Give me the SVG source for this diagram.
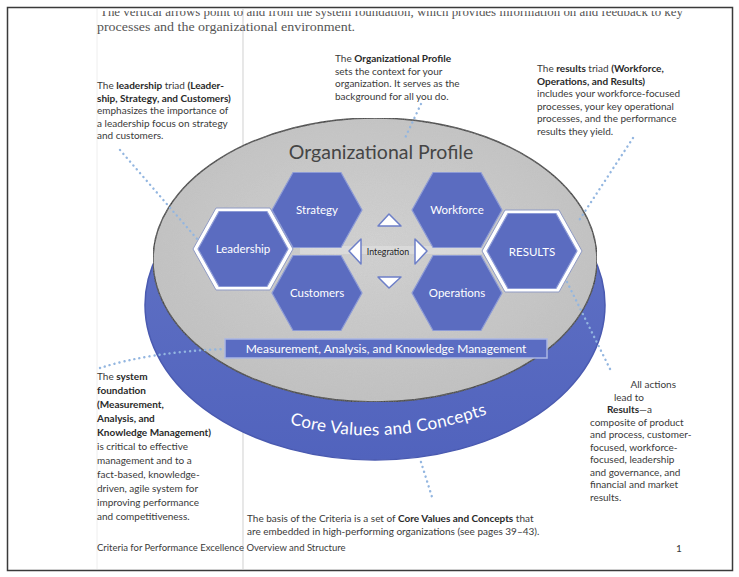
<svg xmlns="http://www.w3.org/2000/svg" width="739" height="577" viewBox="0 0 739 577">
<style>
.t{font-family:Lato,"Open Sans","Liberation Sans",sans-serif;font-size:10px;fill:#3a3a3a}
.b{font-weight:bold;fill:#2a2a2a}
.serif{font-family:"Liberation Serif",serif;font-size:12px;fill:#555}
.hl{font-family:Lato,"Open Sans",sans-serif;font-size:11.5px;fill:#fff;text-anchor:middle}
.dot{fill:none;stroke:#93b6e0;stroke-width:2.4;stroke-linecap:round;stroke-dasharray:0.1 5}
.hex{fill:#5b6cc0;stroke:#8d9bd6;stroke-width:1.2}
.tri{fill:#fff;stroke:#6d7fc8;stroke-width:1.5;stroke-linejoin:round}
</style>
<defs>
<polygon id="hx" points="-24,-37.5 24,-37.5 45,0 24,37.5 -24,37.5 -45,0"/>
<polygon id="hxo" points="-27,-41 27,-41 50,0 27,41 -27,41 -50,0"/>
<linearGradient id="blue" x1="0" y1="0" x2="0" y2="1">
<stop offset="0" stop-color="#6475c6"/><stop offset="1" stop-color="#5163bd"/>
</linearGradient>
<radialGradient id="gray" cx="0.5" cy="0.45" r="0.6">
<stop offset="0" stop-color="#d4d4d4"/><stop offset="1" stop-color="#c0c0c0"/>
</radialGradient>
<filter id="noise" x="0" y="0" width="1" height="1">
<feTurbulence type="fractalNoise" baseFrequency="0.9" numOctaves="2" seed="3" result="n"/>
<feColorMatrix in="n" type="matrix" values="0 0 0 0 0.5  0 0 0 0 0.5  0 0 0 0 0.5  0 0 0 0.35 0" result="g"/>
<feComposite in="g" in2="SourceGraphic" operator="in" result="gn"/>
<feMerge><feMergeNode in="SourceGraphic"/><feMergeNode in="gn"/></feMerge>
</filter>
<clipPath id="clipTop"><rect x="0" y="11" width="739" height="560"/></clipPath>
<path id="arc" d="M 287 423 Q 382 452 490 413"/>
</defs>
<rect width="739" height="577" fill="#fff"/>
<line x1="243" y1="9" x2="243" y2="569" stroke="#d8d8d8" stroke-width="1.2"/>
<line x1="97" y1="9" x2="97" y2="569" stroke="#eeeeee" stroke-width="1"/>
<rect x="7.5" y="7.5" width="725" height="563" fill="none" stroke="#3a3a3a" stroke-width="1.5"/>

<g id="intro" clip-path="url(#clipTop)">
<text class="serif" x="100" y="16" textLength="583" lengthAdjust="spacingAndGlyphs">The vertical arrows point to and from the system foundation, which provides information on and feedback to key</text>
<text class="serif" x="97" y="31" textLength="258" lengthAdjust="spacingAndGlyphs">processes and the organizational environment.</text>
</g>

<g id="base">
<ellipse cx="375" cy="305" rx="230" ry="155" fill="url(#blue)" stroke="#4a5ab0" stroke-width="1.5"/>
<ellipse cx="375" cy="260" rx="222" ry="142" fill="url(#gray)" stroke="#2e2e2e" stroke-width="1.4" filter="url(#noise)"/>
<text font-family="Lato,'Open Sans',sans-serif" font-size="19.5" fill="#454545" text-anchor="middle" x="381" y="159">Organizational Profile</text>
<text font-family="Lato,'Open Sans',sans-serif" font-size="17" fill="#fff" letter-spacing="0.3"><textPath href="#arc" startOffset="50%" text-anchor="middle">Core Values and Concepts</textPath></text>
</g>

<g id="integration">
<rect x="300" y="246" width="182" height="8" fill="#e4e4e4" opacity="0.55"/>
<polygon class="tri" points="378,226 389,214 401,226"/>
<polygon class="tri" points="378,277 401,277 389,288"/>
<polygon class="tri" points="349,251 361,239 361,264"/>
<polygon class="tri" points="427,251 415,239 415,264"/>
<text font-family="Lato,'Open Sans',sans-serif" font-size="8.8" fill="#222" text-anchor="middle" x="388" y="254.5">Integration</text>
</g>

<g id="leadership" transform="translate(243,249)">
<use href="#hxo" fill="#fff" stroke="#8f9ac4" stroke-width="1"/>
<use href="#hx" class="hex" stroke="none"/>
<text class="hl" y="4">Leadership</text>
</g>
<g id="strategy" transform="translate(317,210)">
<use href="#hx" class="hex"/>
<text class="hl" y="4">Strategy</text>
</g>
<g id="customers" transform="translate(317,293)">
<use href="#hx" class="hex"/>
<text class="hl" y="4">Customers</text>
</g>
<g id="workforce" transform="translate(457,210)">
<use href="#hx" class="hex"/>
<text class="hl" y="4">Workforce</text>
</g>
<g id="operations" transform="translate(457,293)">
<use href="#hx" class="hex"/>
<text class="hl" y="4">Operations</text>
</g>
<g id="results" transform="translate(532,251)">
<use href="#hxo" fill="#fff" stroke="#8f9ac4" stroke-width="1"/>
<use href="#hx" class="hex" stroke="none"/>
<text class="hl" y="5" font-size="13.5">RESULTS</text>
</g>

<g id="measurement">
<rect x="225" y="339" width="322" height="19" fill="#5a6cc2" stroke="#aab6e4" stroke-width="1.5"/>
<text font-family="Lato,'Open Sans',sans-serif" font-size="12" fill="#fff" text-anchor="middle" x="386" y="353">Measurement, Analysis, and Knowledge Management</text>
</g>

<g id="connectors">
<path class="dot" d="M 120 150 L 198 240"/>
<path class="dot" d="M 421 104 L 405 138"/>
<path class="dot" d="M 633 138 L 578 222"/>
<path class="dot" d="M 100 368 Q 150 352 225 349"/>
<path class="dot" d="M 567 282 L 612 373"/>
<path class="dot" d="M 421 462 L 432 497"/>
</g>

<g id="note-leadership" class="t">
<text x="97" y="89">The <tspan class="b">leadership</tspan> triad <tspan class="b">(Leader-</tspan></text>
<text x="97" y="101.5" class="b">ship, Strategy, and Customers)</text>
<text x="97" y="114">emphasizes the importance of</text>
<text x="97" y="126.5">a leadership focus on strategy</text>
<text x="97" y="139">and customers.</text>
</g>

<g id="note-profile" class="t">
<text x="335" y="62">The <tspan class="b">Organizational Profile</tspan></text>
<text x="335" y="74.5">sets the context for your</text>
<text x="335" y="87">organization. It serves as the</text>
<text x="335" y="99.5">background for all you do.</text>
</g>

<g id="note-results" class="t">
<text x="537" y="72">The <tspan class="b">results</tspan> triad <tspan class="b">(Workforce,</tspan></text>
<text x="537" y="84.5" class="b">Operations, and Results)</text>
<text x="537" y="97">includes your workforce-focused</text>
<text x="537" y="109.5">processes, your key operational</text>
<text x="537" y="122">processes, and the performance</text>
<text x="537" y="134.5">results they yield.</text>
</g>

<g id="note-foundation" class="t">
<text x="97" y="379.5">The <tspan class="b">system</tspan></text>
<text x="97" y="393.5" class="b">foundation</text>
<text x="97" y="407.5" class="b">(Measurement,</text>
<text x="97" y="421.5" class="b">Analysis, and</text>
<text x="97" y="435.5" class="b">Knowledge Management)</text>
<text x="97" y="449.5">is critical to effective</text>
<text x="97" y="463.5">management and to a</text>
<text x="97" y="477.5">fact-based, knowledge-</text>
<text x="97" y="491.5">driven, agile system for</text>
<text x="97" y="505.5">improving performance</text>
<text x="97" y="519.5">and competitiveness.</text>
</g>

<g id="note-allactions" class="t">
<text x="676" y="388" text-anchor="end">All actions</text>
<text x="629" y="400.5" text-anchor="middle">lead to</text>
<text x="607" y="413"><tspan class="b">Results</tspan>—a</text>
<text x="590" y="425.5">composite of product</text>
<text x="590" y="438">and process, customer-</text>
<text x="590" y="450.5">focused, workforce-</text>
<text x="590" y="463">focused, leadership</text>
<text x="590" y="475.5">and governance, and</text>
<text x="590" y="488">financial and market</text>
<text x="590" y="500.5">results.</text>
</g>

<g id="note-core" class="t">
<text x="247" y="522">The basis of the Criteria is a set of <tspan class="b">Core Values and Concepts</tspan> that</text>
<text x="247" y="534.5">are embedded in high-performing organizations (see pages 39–43).</text>
</g>

<g id="footer" class="t">
<text x="97" y="551" font-size="9.5">Criteria for Performance Excellence Overview and Structure</text>
<text x="676" y="552" font-size="10">1</text>
</g>
</svg>
